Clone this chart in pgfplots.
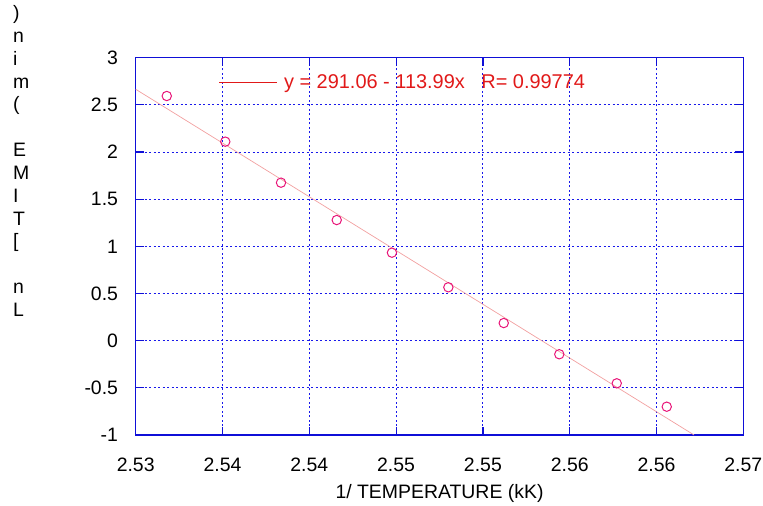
\documentclass[border=0pt]{standalone}
\usepackage{fontspec}
\setmainfont{Liberation Sans}
\usepackage{pgfplots}
\pgfplotsset{compat=1.18}
\definecolor{gridblue}{RGB}{25,25,235}
\definecolor{axblue}{RGB}{15,15,215}
\definecolor{markpink}{RGB}{232,20,120}
\definecolor{fitpink}{RGB}{242,160,160}
\definecolor{legred}{RGB}{225,25,25}
\begin{document}
\begin{tikzpicture}
\path[use as bounding box] (-135.7bp,-71bp) rectangle (627.3bp,435bp);
\begin{axis}[
  at={(0,0)}, anchor=south west,
  scale only axis, width=607.6bp, height=377.3bp,
  xmin=2.53, xmax=2.565, ymin=-1, ymax=3,
  xtick={2.53,2.535,2.54,2.545,2.55,2.555,2.56,2.565},
  xticklabels={2.53,2.54,2.54,2.55,2.55,2.56,2.56,2.57},
  ytick={-1,-0.5,0,0.5,1,1.5,2,2.5,3},
  yticklabels={-1,-0.5,0,0.5,1,1.5,2,2.5,3},
  scaled x ticks=false, scaled y ticks=false,
  axis line style={axblue, line width=1.2bp},
  tick style={axblue, line width=1.2bp},
  major tick length=8bp,
  tick align=inside,
  grid=major,
  major grid style={gridblue, line width=0.9bp, dash pattern=on 2bp off 2.5bp},
  every tick label/.append style={font=\fontsize{19.5}{23}\selectfont, text=black},
  yticklabel style={anchor=east, inner sep=0pt, xshift=-17.5bp},
  xticklabel style={anchor=north, inner sep=0pt, yshift=-22.5bp},
  xlabel={1/ TEMPERATURE (kK)},
  xlabel style={at={(axis description cs:0.5,0)}, anchor=north, inner sep=0pt, yshift=-49bp, font=\fontsize{19.5}{23}\selectfont},
  legend style={at={(axis description cs:0.136,0.9356)}, anchor=west, draw=none, fill=none, inner sep=0pt,
    font=\fontsize{20}{23}\selectfont, text=legred, nodes={inner sep=0pt}},
  clip=true,
]
\addplot[fitpink, line width=0.7bp,
  legend image code/.code={\draw[legred, line width=1bp] (0bp,0bp) -- (57.7bp,0bp); \path (64.7bp,0bp);}]
  coordinates {(2.53,2.6653) (2.562164,-1)};
\addlegendentry{y = 291.06 - 113.99x\ \ \ R= 0.99774}
\addplot[only marks, mark=o, mark size=4.7bp, markpink, mark options={line width=1bp}, forget plot]
  coordinates {
  (2.53179,2.594) (2.53516,2.110) (2.53837,1.675) (2.54158,1.279) (2.54476,0.933)
  (2.54801,0.566) (2.55120,0.187) (2.55440,-0.144) (2.55771,-0.452) (2.56059,-0.700)
  };
\end{axis}
\node[anchor=north west, align=left, inner sep=0pt, font=\fontsize{19.5}{22.9}\selectfont]
  at (-122.7bp,429.6bp) {)\\n\\i\\m\\(\\~\\E\\M\\I\\T\\{[}\\~\\n\\L};
\end{tikzpicture}
\end{document}
